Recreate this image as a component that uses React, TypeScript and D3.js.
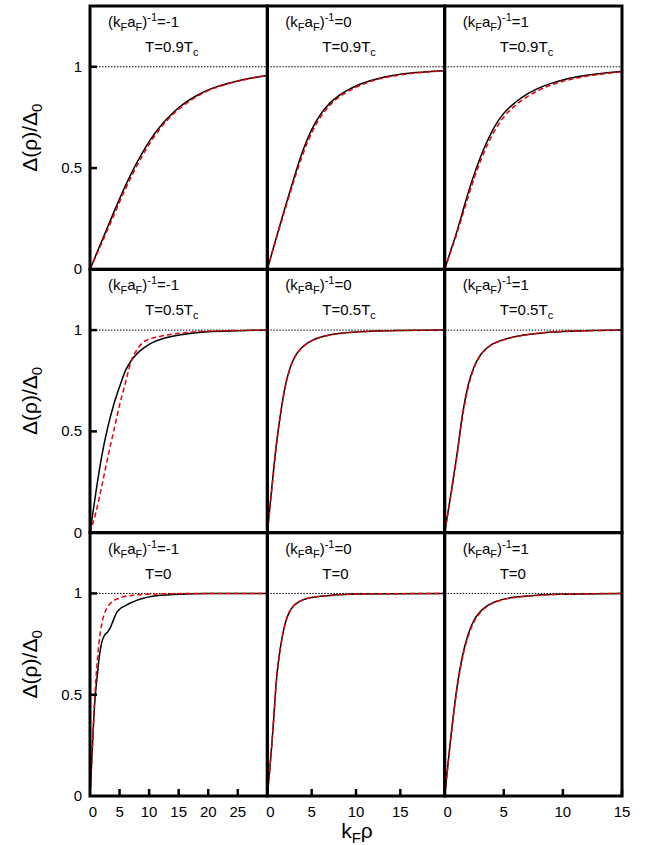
import React from "react";
import * as d3 from "d3";

// (kFaF)^-1 per column, temperature per row
const couplings = ["-1", "0", "1"];
const temps = ["0.9", "0.5", "0"];
const xMaxes = [30, 20, 15];
const xTickSets = [
  [0, 5, 10, 15, 20, 25],
  [0, 5, 10, 15],
  [0, 5, 10, 15],
];
const yTicks = [0, 0.5, 1];

// row 1: T = 0.9 Tc
const xTL = [0, 1, 2, 3, 4, 5, 6, 7, 8, 9, 10, 12, 14, 16, 18, 20, 22, 24, 26, 28, 30];
const blackTL = [0, 0.07, 0.14, 0.21, 0.28, 0.348, 0.413, 0.474, 0.53, 0.582, 0.63, 0.71, 0.772, 0.82, 0.857, 0.886, 0.907, 0.923, 0.937, 0.948, 0.957];
const redTL = [0, 0.065, 0.13, 0.197, 0.265, 0.332, 0.397, 0.458, 0.515, 0.568, 0.617, 0.7, 0.764, 0.813, 0.852, 0.882, 0.904, 0.921, 0.935, 0.947, 0.957];

const xTM = [0, 1, 2, 3, 4, 5, 6, 7, 8, 9, 10, 11, 12, 13, 14, 15, 16, 18, 20];
const blackTM = [0, 0.155, 0.305, 0.45, 0.585, 0.69, 0.765, 0.818, 0.855, 0.883, 0.905, 0.922, 0.936, 0.947, 0.956, 0.963, 0.968, 0.975, 0.98];
const redTM = [0, 0.15, 0.295, 0.437, 0.567, 0.673, 0.752, 0.807, 0.847, 0.876, 0.899, 0.917, 0.932, 0.944, 0.953, 0.96, 0.966, 0.974, 0.98];

const xTR = [0, 0.5, 1, 1.5, 2, 2.5, 3, 3.5, 4, 4.5, 5, 6, 7, 8, 9, 10, 11, 12, 13, 14, 15];
const blackTR = [0, 0.09, 0.18, 0.28, 0.38, 0.47, 0.55, 0.62, 0.68, 0.73, 0.77, 0.825, 0.866, 0.896, 0.918, 0.935, 0.948, 0.958, 0.966, 0.972, 0.977];
const redTR = [0, 0.085, 0.17, 0.265, 0.36, 0.45, 0.53, 0.6, 0.66, 0.71, 0.752, 0.81, 0.853, 0.885, 0.91, 0.928, 0.942, 0.953, 0.962, 0.969, 0.975];

// row 2: T = 0.5 Tc
const xML = [0, 1, 2, 3, 4, 5, 6, 7, 8, 9, 10, 12, 14, 16, 18, 20, 25, 30];
const blackML = [0, 0.2, 0.38, 0.52, 0.63, 0.72, 0.8, 0.85, 0.885, 0.91, 0.93, 0.955, 0.97, 0.98, 0.987, 0.992, 0.997, 1.0];
const redML = [0, 0.1, 0.23, 0.37, 0.5, 0.63, 0.74, 0.85, 0.905, 0.94, 0.955, 0.97, 0.98, 0.987, 0.992, 0.995, 0.998, 1.0];

const xMM = [0, 0.5, 1, 1.5, 2, 2.5, 3, 3.5, 4, 5, 6, 7, 8, 10, 12, 15, 20];
const blackMM = [0, 0.22, 0.43, 0.59, 0.72, 0.805, 0.86, 0.895, 0.918, 0.948, 0.965, 0.976, 0.983, 0.991, 0.995, 0.998, 1.0];
const redMM = [0, 0.21, 0.42, 0.585, 0.715, 0.8, 0.857, 0.893, 0.917, 0.947, 0.964, 0.975, 0.983, 0.991, 0.995, 0.998, 1.0];

const xMR = [0, 0.5, 1, 1.5, 2, 2.5, 3, 3.5, 4, 5, 6, 7, 8, 10, 12, 15];
const blackMR = [0, 0.18, 0.37, 0.58, 0.73, 0.82, 0.875, 0.908, 0.93, 0.953, 0.968, 0.978, 0.985, 0.993, 0.997, 1.0];
const redMR = [0, 0.175, 0.36, 0.57, 0.72, 0.815, 0.872, 0.906, 0.928, 0.952, 0.967, 0.977, 0.985, 0.993, 0.997, 1.0];

// row 3: T = 0
const xBL = [0, 0.25, 0.5, 0.75, 1, 1.25, 1.5, 2, 2.5, 3, 3.5, 4, 4.5, 5, 6, 7, 8, 9, 10, 12, 15, 20, 25, 30];
const blackBL = [0, 0.15, 0.3, 0.44, 0.53, 0.6, 0.67, 0.76, 0.795, 0.81, 0.835, 0.872, 0.905, 0.922, 0.94, 0.955, 0.967, 0.976, 0.983, 0.991, 0.996, 1, 1, 1];
const redBL = [0, 0.14, 0.3, 0.45, 0.58, 0.67, 0.75, 0.85, 0.905, 0.935, 0.953, 0.965, 0.972, 0.978, 0.986, 0.99, 0.993, 0.995, 0.996, 0.998, 0.999, 1, 1, 1];

const xBM = [0, 0.25, 0.5, 0.75, 1, 1.5, 2, 2.5, 3, 3.5, 4, 5, 6, 7, 8, 10, 15, 20];
const blackBM = [0, 0.12, 0.25, 0.4, 0.56, 0.74, 0.85, 0.91, 0.94, 0.957, 0.968, 0.98, 0.986, 0.99, 0.993, 0.997, 0.999, 1];
const redBM = [0, 0.12, 0.25, 0.4, 0.555, 0.735, 0.848, 0.908, 0.94, 0.957, 0.968, 0.98, 0.986, 0.99, 0.993, 0.997, 0.999, 1];

const xBR = [0, 0.5, 1, 1.5, 2, 2.5, 3, 3.5, 4, 5, 6, 8, 10, 15];
const blackBR = [0, 0.28, 0.52, 0.69, 0.8, 0.87, 0.91, 0.935, 0.952, 0.972, 0.982, 0.992, 0.996, 1];
const redBR = [0, 0.27, 0.51, 0.68, 0.79, 0.862, 0.905, 0.932, 0.95, 0.97, 0.981, 0.991, 0.996, 1];

const panels = [
  [xTL, blackTL, redTL], [xTM, blackTM, redTM], [xTR, blackTR, redTR],
  [xML, blackML, redML], [xMM, blackMM, redMM], [xMR, blackMR, redMR],
  [xBL, blackBL, redBL], [xBM, blackBM, redBM], [xBR, blackBR, redBR],
];

const W = 648;
const H = 845;
const left = 90;
const right = 622;
const top = 6;
const bottom = 796;
const colW = (right - left) / 3;
const rowH = (bottom - top) / 3;
const font = "Liberation Sans, Arial, sans-serif";

function Panel({ row, col }: { row: number; col: number }) {
  const [xs, black, red] = panels[row * 3 + col];
  const x0 = left + col * colW;
  const y0 = top + row * rowH;
  const x = d3.scaleLinear().domain([0, xMaxes[col]]).range([x0, x0 + colW]);
  const y = d3.scaleLinear().domain([0, 1.3]).range([y0 + rowH, y0]);
  const line = d3
    .line<number>()
    .x((d, i) => x(xs[i]))
    .y((d) => y(d))
    .curve(d3.curveMonotoneX);
  const clipId = `clip-${row}-${col}`;
  const tx = x0 + 18;

  return (
    <g>
      <clipPath id={clipId}>
        <rect x={x0} y={y0} width={colW} height={rowH} />
      </clipPath>
      <line
        x1={x0}
        x2={x0 + colW}
        y1={y(1)}
        y2={y(1)}
        stroke="#000"
        strokeWidth={1}
        strokeDasharray="1.5,1.5"
      />
      <g clipPath={`url(#${clipId})`}>
        <path d={line(black) || ""} fill="none" stroke="#000" strokeWidth={1.5} />
        <path
          d={line(red) || ""}
          fill="none"
          stroke="#e8000b"
          strokeWidth={1.5}
          strokeDasharray="5,3"
        />
      </g>
      <text x={tx} y={y0 + 21} fontSize={15} fontFamily={font}>
        (k<tspan fontSize={11} dy={4}>F</tspan>
        <tspan dy={-4}>a</tspan>
        <tspan fontSize={11} dy={4}>F</tspan>
        <tspan dy={-4}>)</tspan>
        <tspan fontSize={11} dy={-6}>-1</tspan>
        <tspan dy={6}>={couplings[col]}</tspan>
      </text>
      <text x={x0 + 55} y={y0 + 46} fontSize={15} fontFamily={font}>
        {temps[row] === "0" ? (
          "T=0"
        ) : (
          <>
            T={temps[row]}T<tspan fontSize={11} dy={4}>c</tspan>
          </>
        )}
      </text>
      {col === 0 &&
        yTicks.slice(1).map((t) => (
          <line
            key={t}
            x1={x0}
            x2={x0 + 7}
            y1={y(t)}
            y2={y(t)}
            stroke="#000"
            strokeWidth={2.5}
          />
        ))}
      {row === 2 &&
        xTickSets[col].slice(1).map((t) => (
          <line
            key={t}
            x1={x(t)}
            x2={x(t)}
            y1={y(0)}
            y2={y(0) - 7}
            stroke="#000"
            strokeWidth={2.5}
          />
        ))}
      <rect
        x={x0}
        y={y0}
        width={colW}
        height={rowH}
        fill="none"
        stroke="#000"
        strokeWidth={3}
      />
    </g>
  );
}

export default function App() {
  const rows = [0, 1, 2];
  const cols = [0, 1, 2];
  return (
    <svg
      width={W}
      height={H}
      style={{ position: "absolute", left: 0, top: 0, background: "#fff" }}
    >
      <rect width={W} height={H} fill="#fff" />
      {rows.map((r) =>
        cols.map((c) => <Panel key={`${r}-${c}`} row={r} col={c} />)
      )}
      {rows.map((r) => {
        const y = d3
          .scaleLinear()
          .domain([0, 1.3])
          .range([top + (r + 1) * rowH, top + r * rowH]);
        const cy = top + r * rowH + rowH / 2;
        return (
          <g key={r}>
            {yTicks.map((t) => (
              <text
                key={t}
                x={82}
                y={y(t) + 5}
                textAnchor="end"
                fontSize={15}
                fontFamily={font}
              >
                {t}
              </text>
            ))}
            <text
              transform={`translate(37, ${cy}) rotate(-90)`}
              textAnchor="middle"
              fontSize={21}
              fontFamily={font}
            >
              Δ(ρ)/Δ<tspan fontSize={15} dy={5}>0</tspan>
            </text>
          </g>
        );
      })}
      {cols.map((c) => {
        const x0 = left + c * colW;
        const x = d3.scaleLinear().domain([0, xMaxes[c]]).range([x0, x0 + colW]);
        const ticks = c === 2 ? [...xTickSets[c], 15] : xTickSets[c];
        return (
          <g key={c}>
            {ticks
              .filter((t, i, a) => a.indexOf(t) === i)
              .map((t) => (
                <text
                  key={t}
                  x={x(t) + (t === 0 ? 3 : 0)}
                  y={817}
                  textAnchor="middle"
                  fontSize={15}
                  fontFamily={font}
                >
                  {t}
                </text>
              ))}
          </g>
        );
      })}
      <text x={357} y={838} textAnchor="middle" fontSize={21} fontFamily={font}>
        k<tspan fontSize={15} dy={5}>F</tspan>
        <tspan dy={-5}>ρ</tspan>
      </text>
    </svg>
  );
}
